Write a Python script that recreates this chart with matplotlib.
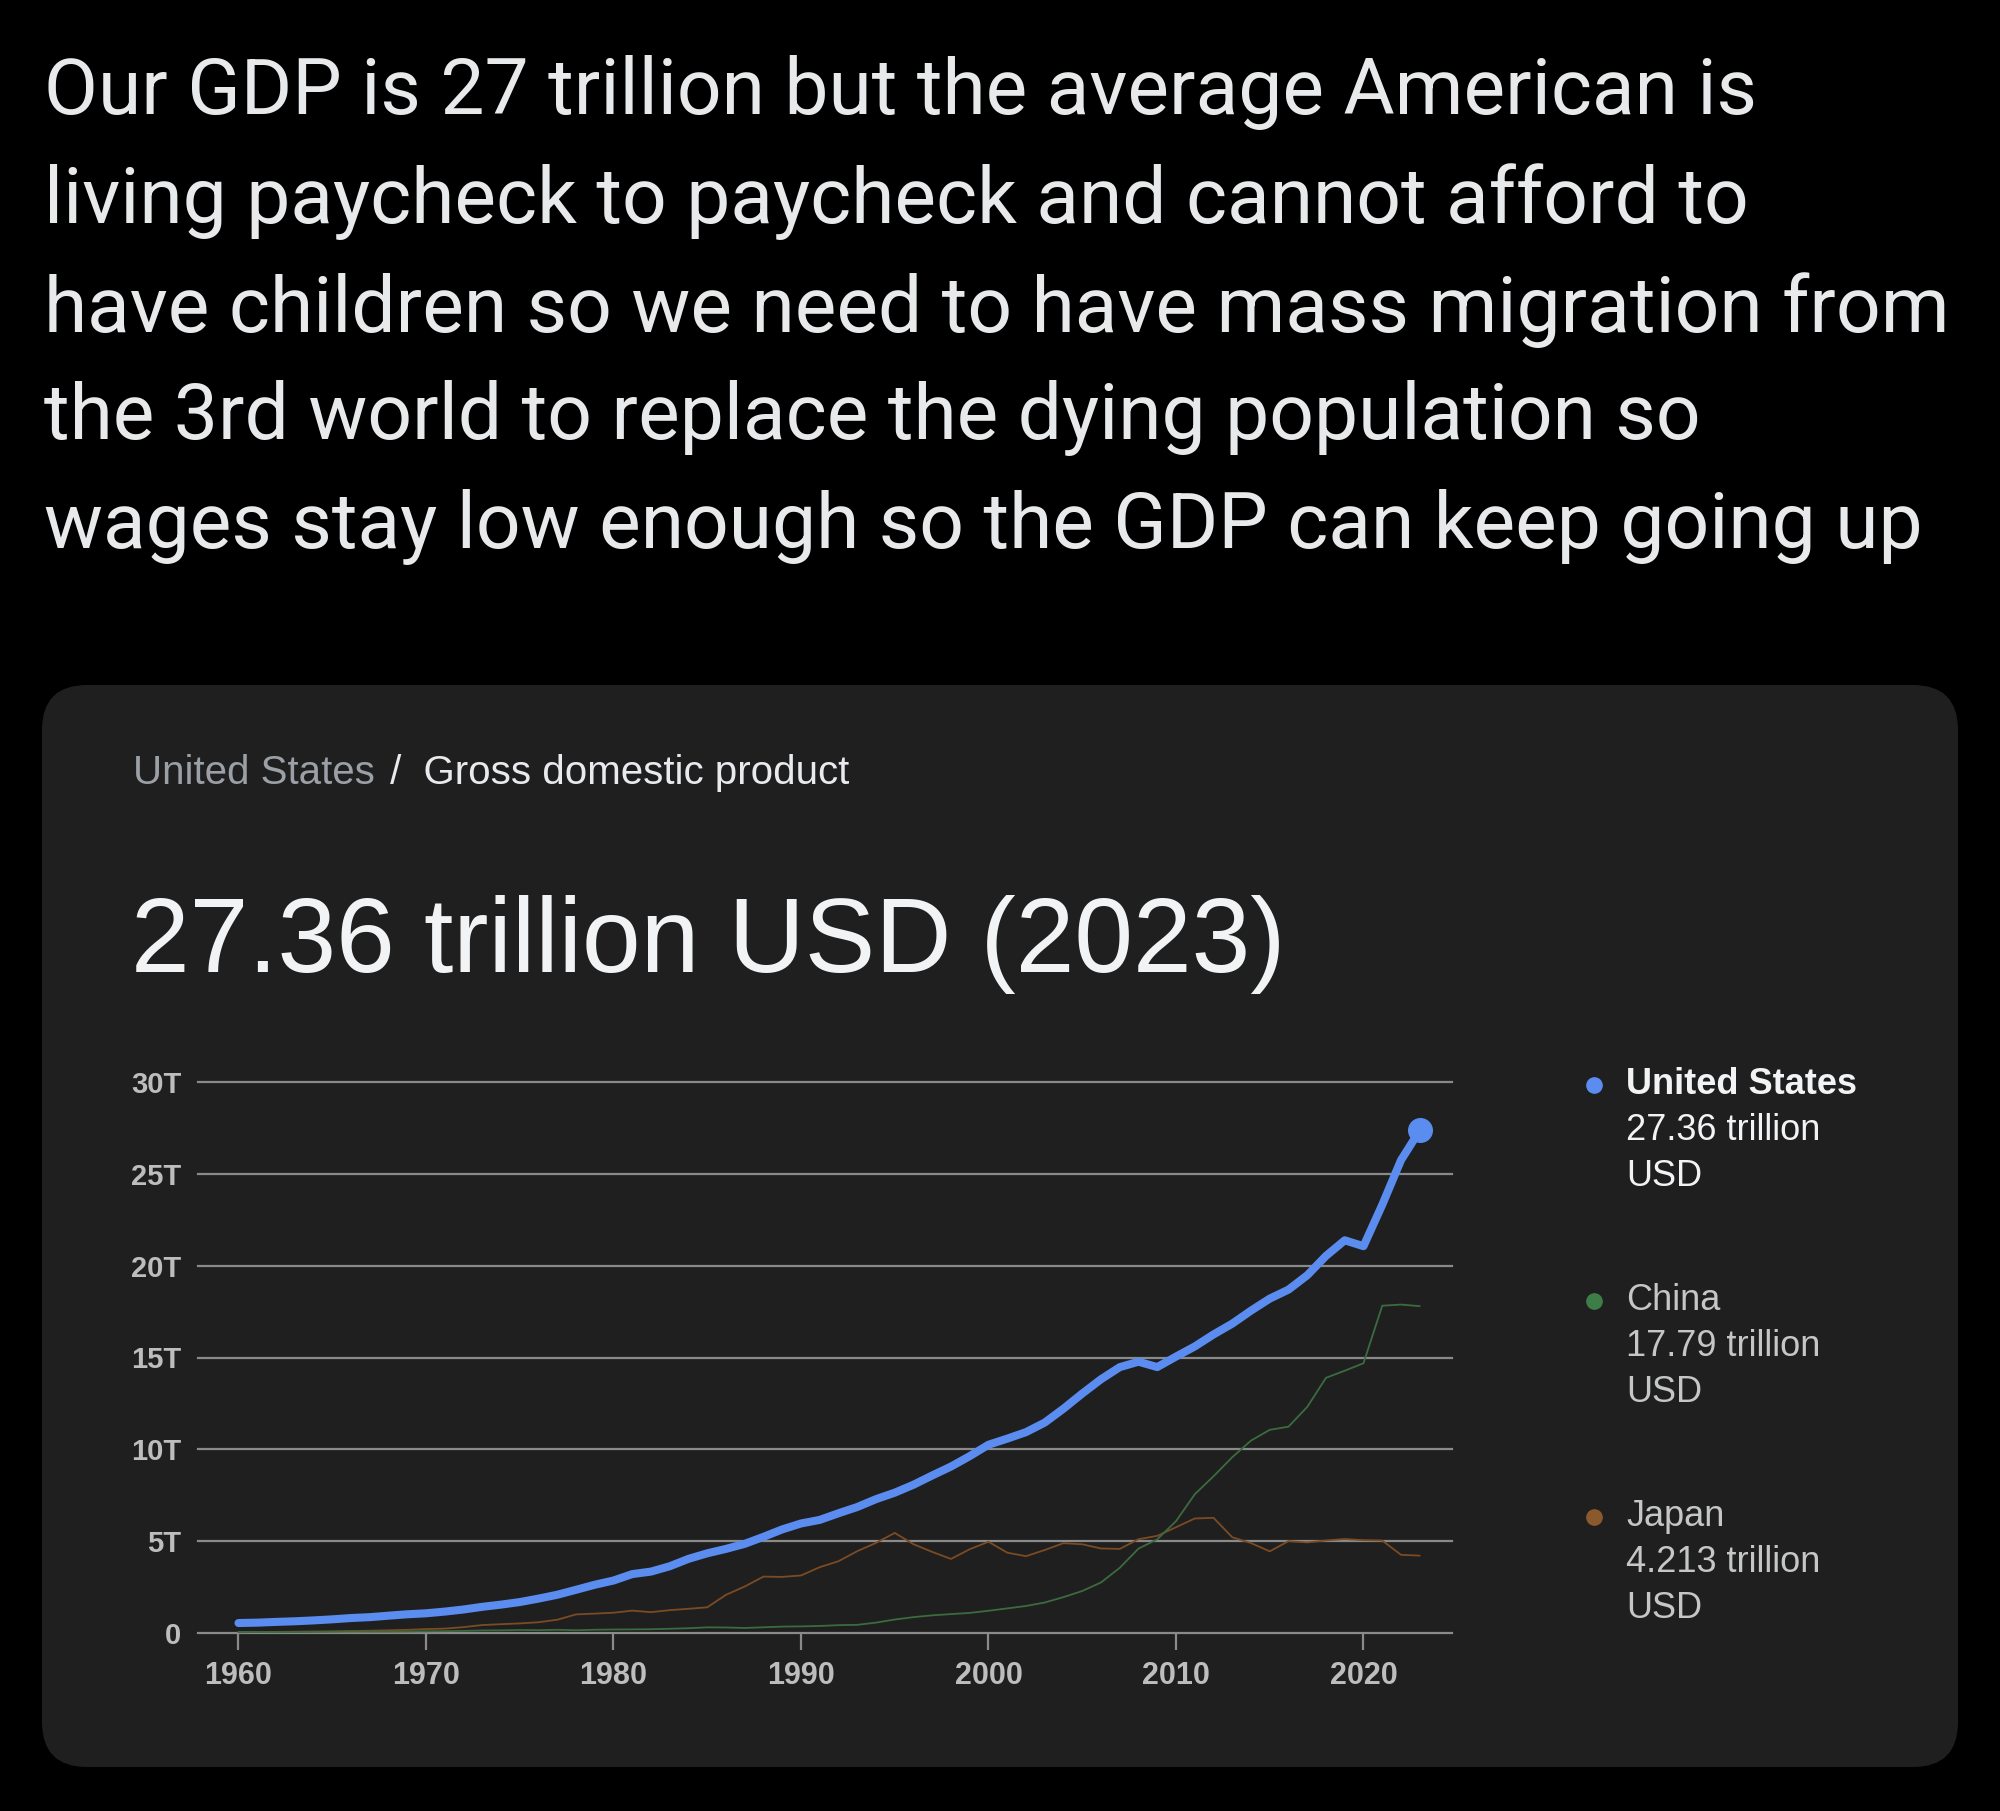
import matplotlib
matplotlib.use('Agg')
import matplotlib.pyplot as plt
from matplotlib.patches import FancyBboxPatch

# data, trillions of USD
years = list(range(1960, 2024))
usa = [0.543, 0.563, 0.605, 0.638, 0.686, 0.744, 0.815, 0.862, 0.943, 1.019,
       1.073, 1.165, 1.280, 1.425, 1.545, 1.684, 1.873, 2.082, 2.352, 2.627,
       2.857, 3.207, 3.343, 3.634, 4.037, 4.339, 4.580, 4.855, 5.236, 5.642,
       5.963, 6.158, 6.520, 6.859, 7.287, 7.640, 8.073, 8.578, 9.063, 9.631,
       10.251, 10.582, 10.936, 11.458, 12.214, 13.037, 13.815, 14.475, 14.770, 14.478,
       15.049, 15.600, 16.254, 16.843, 17.551, 18.206, 18.695, 19.477, 20.533, 21.381,
       21.060, 23.315, 25.744, 27.361]
china = [0.060, 0.050, 0.047, 0.051, 0.060, 0.070, 0.077, 0.073, 0.071, 0.080,
         0.093, 0.100, 0.114, 0.139, 0.144, 0.163, 0.154, 0.175, 0.150, 0.178,
         0.191, 0.196, 0.205, 0.230, 0.260, 0.309, 0.301, 0.273, 0.312, 0.348,
         0.361, 0.383, 0.427, 0.445, 0.564, 0.735, 0.864, 0.962, 1.029, 1.094,
         1.211, 1.339, 1.471, 1.660, 1.955, 2.286, 2.752, 3.550, 4.594, 5.102,
         6.087, 7.552, 8.532, 9.570, 10.476, 11.062, 11.233, 12.310, 13.895, 14.280,
         14.688, 17.820, 17.882, 17.795]
japan = [0.044, 0.054, 0.061, 0.070, 0.082, 0.091, 0.106, 0.124, 0.147, 0.172,
         0.213, 0.240, 0.318, 0.433, 0.480, 0.521, 0.586, 0.722, 1.013, 1.055,
         1.105, 1.218, 1.135, 1.244, 1.318, 1.399, 2.079, 2.532, 3.072, 3.054,
         3.133, 3.584, 3.909, 4.455, 4.907, 5.449, 4.833, 4.415, 4.032, 4.563,
         4.968, 4.374, 4.182, 4.519, 4.893, 4.831, 4.602, 4.579, 5.106, 5.289,
         5.759, 6.234, 6.272, 5.212, 4.897, 4.445, 5.004, 4.931, 5.038, 5.118,
         5.055, 5.034, 4.256, 4.213]

y_ticks = [0, 5, 10, 15, 20, 25, 30]
y_labels = ['0', '5T', '10T', '15T', '20T', '25T', '30T']
x_ticks = [1960, 1970, 1980, 1990, 2000, 2010, 2020]

names = ['United States', 'China', 'Japan']
latest = ['27.36 trillion', '17.79 trillion', '4.213 trillion']
line_colors = ['#5b8cf0', '#3b6b3f', '#7b4b24']
dot_colors = ['#5b8cf0', '#3f7d48', '#8a5a2c']

tweet = ("Our GDP is 27 trillion but the average American is\n"
         "living paycheck to paycheck and cannot afford to\n"
         "have children so we need to have mass migration from\n"
         "the 3rd world to replace the dying population so\n"
         "wages stay low enough so the GDP can keep going up")

W, H = 2000, 1811
fig = plt.figure(figsize=(W / 100, H / 100), dpi=100)
fig.patch.set_facecolor('black')

# background axes in pixel coordinates (y downwards)
bg = fig.add_axes([0, 0, 1, 1])
bg.set_xlim(0, W)
bg.set_ylim(H, 0)
bg.axis('off')

card = FancyBboxPatch((42 + 45, 685 + 45), 1916 - 90, 1082 - 90,
                      boxstyle='round,pad=45', fc='#1f1f1f', ec='none')
bg.add_patch(card)

tweet_font = ['Roboto', 'DejaVu Sans']
chart_font = ['Liberation Sans', 'DejaVu Sans']

# tweet text, size fitted so the widest line spans like the reference
lines = tweet.split('\n')
line_y = [93, 202, 310, 418, 527]
tw = []
for txt, yy in zip(lines, line_y):
    tw.append(bg.text(44, yy, txt, color='#e7e9ea', fontsize=56,
                      family=tweet_font, va='center', ha='left'))
fig.canvas.draw()
r = fig.canvas.get_renderer()
widest = max(t.get_window_extent(r).width for t in tw)
size = 56 * 1905 / widest
for t in tw:
    t.set_fontsize(size)

t1 = bg.text(133, 773, 'United States', color='#9aa0a6', fontsize=29,
             family=chart_font, va='center', ha='left')
bg.annotate(' /  Gross domestic product', xy=(1, 0.5), xycoords=t1,
            xytext=(4, 0), textcoords='offset pixels', color='#e8eaed',
            fontsize=29, family=chart_font, va='center', ha='left')

bg.text(131, 944, '27.36 trillion USD (2023)', color='#f1f3f4', fontsize=76,
        family=chart_font, va='center', ha='left')

# chart axes
x0, x1 = 198, 1452
y_top, y_bot = 1082, 1633
ax = fig.add_axes([x0 / W, 1 - y_bot / H, (x1 - x0) / W, (y_bot - y_top) / H])
ax.set_facecolor('none')
px_per_year = (1363.5 - 238.5) / 60
ax.set_xlim(1960 - (238.5 - x0) / px_per_year, 2020 + (x1 - 1363.5) / px_per_year)
ax.set_ylim(0, 30)
for v in y_ticks:
    ax.axhline(v, color='#8a8a8a', lw=1.6, zorder=1, clip_on=False)
for s in ax.spines.values():
    s.set_visible(False)

widths = [5.8, 1.3, 1.3]
series = [usa, china, japan]
for i in [2, 1, 0]:
    ax.plot(years, series[i], color=line_colors[i], lw=widths[i],
            solid_capstyle='round', solid_joinstyle='round', zorder=3 + (i == 0),
            clip_on=False)
ax.plot(years[-1], usa[-1], 'o', color=line_colors[0], ms=17, zorder=5,
        clip_on=False)

ax.set_yticks(y_ticks)
ax.set_yticklabels(y_labels)
ax.set_xticks(x_ticks)
ax.set_xticklabels([str(v) for v in x_ticks])
ax.tick_params(axis='y', length=0, pad=12, labelsize=21, labelcolor='#bdbdbd')
ax.tick_params(axis='x', length=12, width=1.6, color='#8a8a8a', pad=8,
               labelsize=22, labelcolor='#bdbdbd', direction='out')
for lab in ax.get_xticklabels() + ax.get_yticklabels():
    lab.set_family(chart_font)
    lab.set_fontweight('bold')

# legend at the right
leg_y = [1085, 1301, 1517]
for i in range(3):
    y = leg_y[i]
    tc = '#f1f3f4' if i == 0 else '#c4c7c5'
    bg.plot(1594, y, 'o', color=dot_colors[i], ms=11)
    bg.text(1626, y, names[i], color=tc, fontsize=26, family=chart_font,
            fontweight='bold' if i == 0 else 'normal', va='center', ha='left')
    bg.text(1626, y + 46, latest[i], color=tc, fontsize=26, family=chart_font,
            va='center', ha='left')
    bg.text(1626, y + 91, 'USD', color=tc, fontsize=26, family=chart_font,
            va='center', ha='left')

fig.savefig('out.png', dpi=100, facecolor=fig.get_facecolor())
